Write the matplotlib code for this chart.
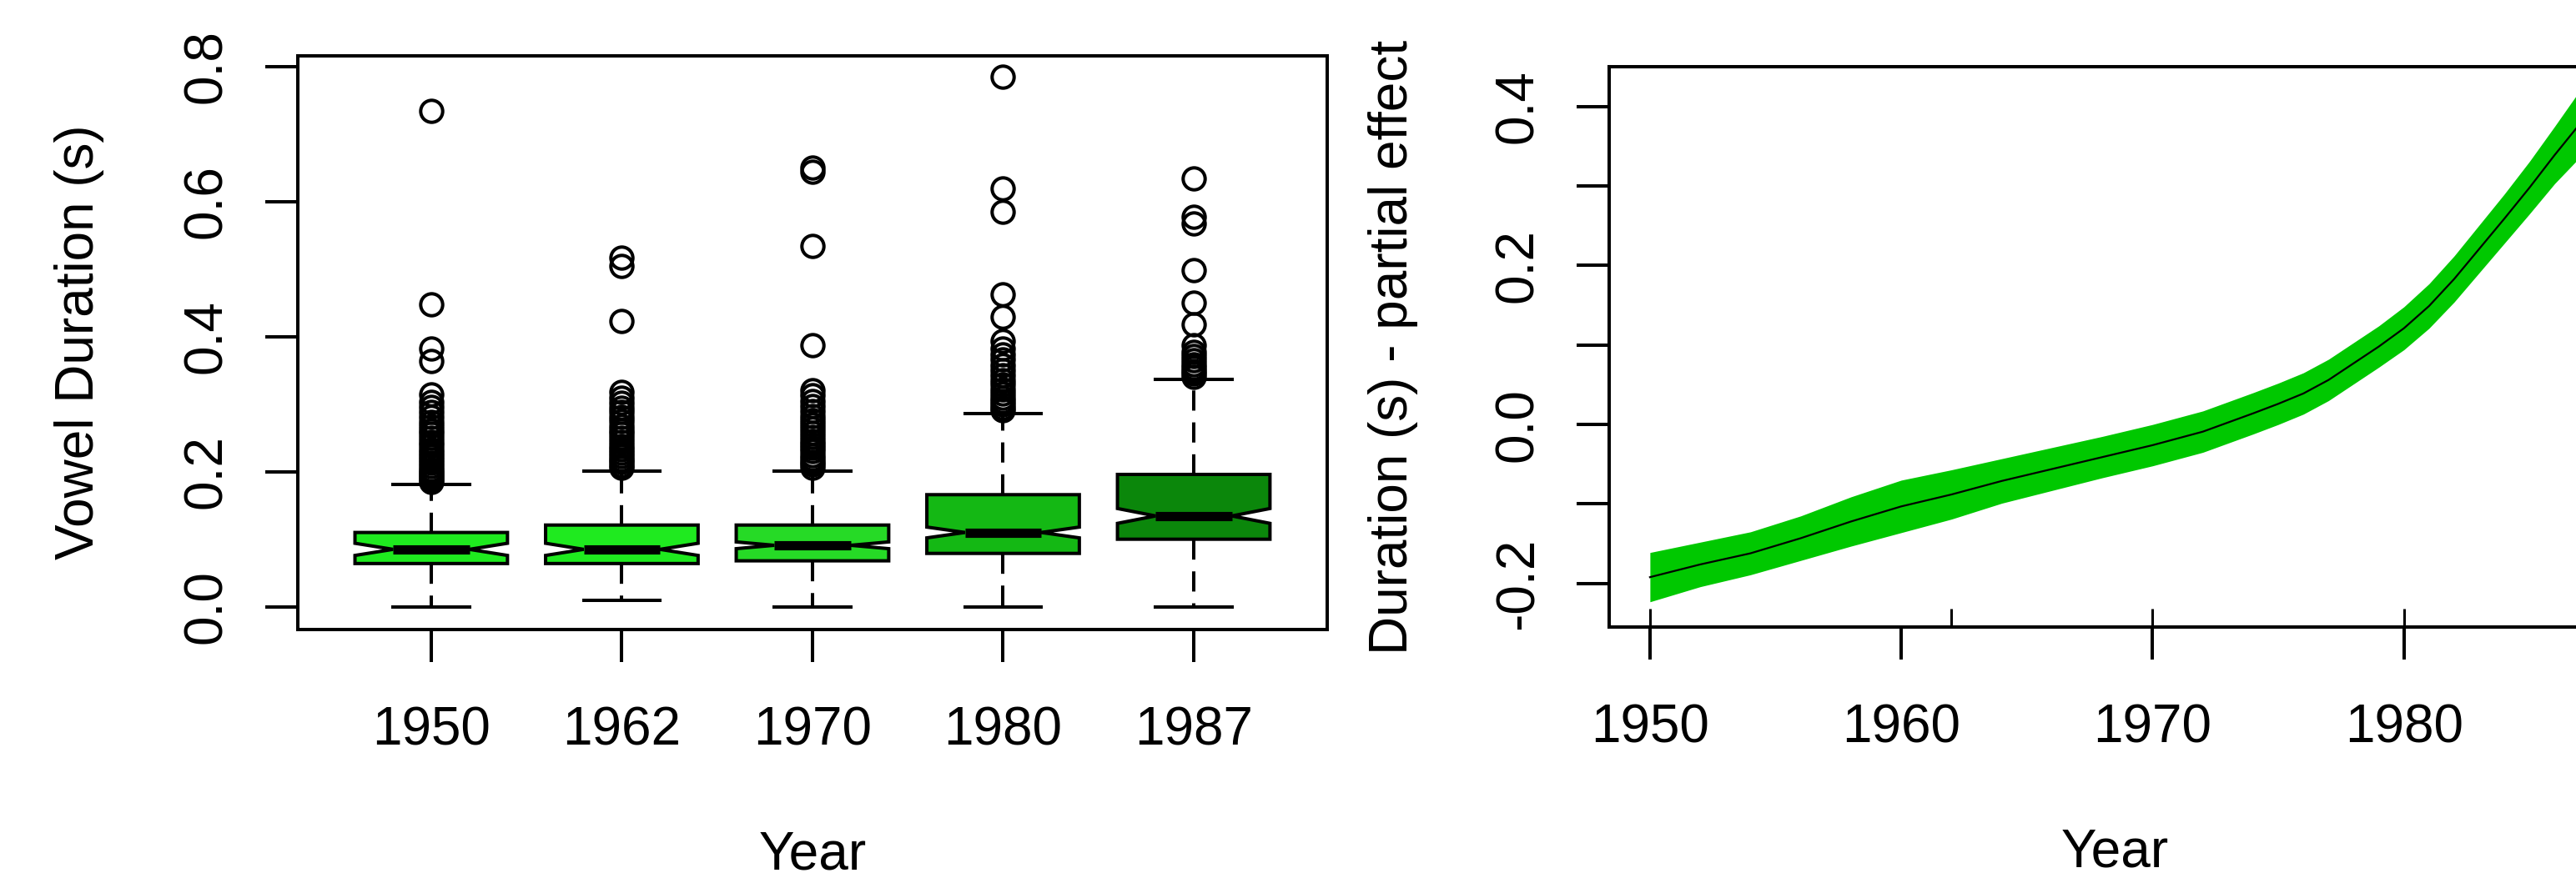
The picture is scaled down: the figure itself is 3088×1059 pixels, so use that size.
import matplotlib
matplotlib.use("Agg")
import matplotlib.pyplot as plt

plt.rcParams['font.family'] = ['Liberation Sans', 'DejaVu Sans']

# Left panel: vowel duration per recording year (box statistics)
year_labels = ["1950", "1962", "1970", "1980", "1987"]
q1 = [0.064, 0.064, 0.068, 0.079, 0.100]
medians = [0.085, 0.085, 0.091, 0.110, 0.1345]
q3 = [0.110, 0.121, 0.121, 0.166, 0.196]
whisker_lo = [0.0, 0.0096, 0.0, 0.0, 0.0]
whisker_hi = [0.181, 0.2006, 0.2006, 0.2865, 0.337]
notch_half = [0.009, 0.009, 0.005, 0.008, 0.011]
outliers = [
    [0.735, 0.448, 0.382, 0.364, 0.315, 0.303, 0.296, 0.289, 0.281, 0.274,
     0.268, 0.262, 0.256, 0.250, 0.244, 0.239, 0.233, 0.228, 0.223, 0.218,
     0.213, 0.208, 0.204, 0.200, 0.196, 0.192, 0.188, 0.185],
    [0.517, 0.505, 0.423, 0.318, 0.310, 0.302, 0.295, 0.288, 0.281, 0.275,
     0.268, 0.262, 0.256, 0.250, 0.244, 0.238, 0.233, 0.228, 0.223, 0.218,
     0.214, 0.210, 0.206],
    [0.651, 0.644, 0.534, 0.388, 0.321, 0.313, 0.305, 0.297, 0.290, 0.283,
     0.276, 0.270, 0.264, 0.258, 0.252, 0.246, 0.240, 0.235, 0.230, 0.225,
     0.220, 0.215, 0.211, 0.206],
    [0.785, 0.620, 0.585, 0.463, 0.429, 0.393, 0.383, 0.374, 0.366, 0.358,
     0.350, 0.343, 0.336, 0.329, 0.322, 0.316, 0.310, 0.305, 0.300, 0.295,
     0.291],
    [0.635, 0.578, 0.568, 0.499, 0.450, 0.418, 0.387, 0.378, 0.371, 0.365,
     0.359, 0.354, 0.349, 0.345, 0.341],
]
box_colors = ['#1FEA1F', '#1FEA1F', '#26DA26', '#14B814', '#0B870B']
left_yticks = [0.0, 0.2, 0.4, 0.6, 0.8]

# Right panel: partial effect of year (GAM smooth) with confidence band
fit_year = [1950, 1952, 1954, 1956, 1958, 1960, 1962, 1964, 1966, 1968, 1970,
            1972, 1974, 1975, 1976, 1977, 1978, 1979, 1980, 1981, 1982, 1983,
            1984, 1985, 1986, 1987]
fit = [-0.192, -0.176, -0.162, -0.143, -0.122, -0.103, -0.088, -0.071, -0.056,
       -0.041, -0.026, -0.009, 0.014, 0.026, 0.039, 0.056, 0.077, 0.098, 0.121,
       0.149, 0.183, 0.221, 0.259, 0.298, 0.339, 0.378]
ci_half = [0.031, 0.028, 0.027, 0.028, 0.031, 0.033, 0.031, 0.028, 0.027, 0.026,
           0.026, 0.026, 0.026, 0.026, 0.026, 0.026, 0.026, 0.026, 0.027, 0.028,
           0.029, 0.030, 0.031, 0.033, 0.036, 0.042]
rug_years = [1950, 1962, 1970, 1980, 1987]
right_xticks = [1950, 1960, 1970, 1980]
right_yticks = [-0.2, -0.1, 0.0, 0.1, 0.2, 0.3, 0.4]
right_ylabels = ["-0.2", "", "0.0", "", "0.2", "", "0.4"]

FS = 46
LW = 2.9

fig = plt.figure(figsize=(30.88, 10.59), dpi=100)
ax1 = fig.add_axes([0.1156, 0.2875, 0.3996, 0.6495])
ax2 = fig.add_axes([0.6248, 0.2899, 0.3924, 0.6346])

# ---- boxplot
stats = []
for i in range(len(year_labels)):
    stats.append(dict(q1=q1[i], med=medians[i], q3=q3[i],
                      whislo=whisker_lo[i], whishi=whisker_hi[i],
                      cilo=medians[i] - notch_half[i], cihi=medians[i] + notch_half[i],
                      fliers=outliers[i]))

bp = ax1.bxp(stats, positions=range(1, 6), widths=0.8, shownotches=True, patch_artist=True,
             boxprops=dict(linewidth=LW, edgecolor='black'),
             whiskerprops=dict(linewidth=LW, linestyle=(0, (6, 3.5)), color='black'),
             capprops=dict(linewidth=LW, color='black'),
             medianprops=dict(linewidth=8, color='black', solid_capstyle='butt'),
             flierprops=dict(marker='o', markersize=19, markerfacecolor='none',
                             markeredgecolor='black', markeredgewidth=2.9))
for patch, c in zip(bp['boxes'], box_colors):
    patch.set_facecolor(c)

ax1.set_xlim(0.3, 5.7)
ax1.set_ylim(-0.0332, 0.8164)
ax1.set_xticks(range(1, 6))
ax1.set_xticklabels(year_labels)
ax1.set_yticks(left_yticks)
ax1.set_yticklabels([f"{v:.1f}" for v in left_yticks])
ax1.set_xlabel("Year", fontsize=FS, labelpad=64)
ax1.set_ylabel("Vowel Duration (s)", fontsize=FS, labelpad=67)

# ---- smooth with band
lower = [f - h for f, h in zip(fit, ci_half)]
upper = [f + h for f, h in zip(fit, ci_half)]
ax2.fill_between(fit_year, lower, upper, color='#00C800', linewidth=0)
ax2.plot(fit_year, fit, color='black', linewidth=1.6)
ax2.vlines(rug_years, 0, 0.033, transform=ax2.get_xaxis_transform(),
           colors='black', linewidth=2.2)
ax2.set_xlim(1948.39, 1988.61)
ax2.set_ylim(-0.2547, 0.450)
ax2.set_xticks(right_xticks)
ax2.set_xticklabels([str(y) for y in right_xticks])
ax2.set_yticks(right_yticks)
ax2.set_yticklabels(right_ylabels)
ax2.set_xlabel("Year", fontsize=FS, labelpad=64)
ax2.set_ylabel("Duration (s) - partial effect", fontsize=FS, labelpad=65)

for ax in (ax1, ax2):
    for s in ax.spines.values():
        s.set_linewidth(LW)
    ax.tick_params(axis='both', length=28, width=LW, labelsize=FS, direction='out')
    ax.tick_params(axis='x', pad=38)
    ax.tick_params(axis='y', pad=29, labelrotation=90)
    plt.setp(ax.get_yticklabels(), va='center')

fig.savefig("out.png", dpi=100)
